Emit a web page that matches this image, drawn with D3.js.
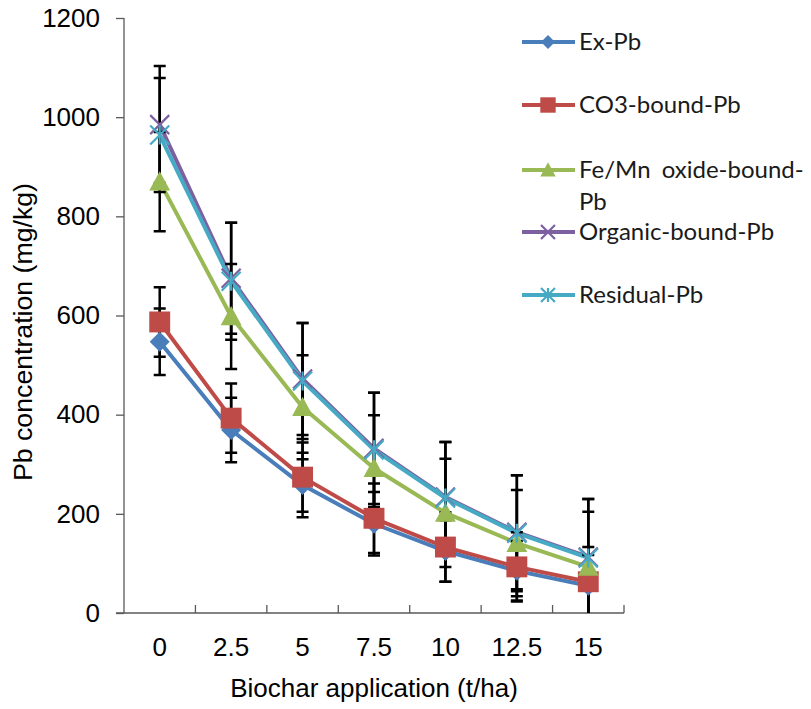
<!DOCTYPE html>
<html lang="en">

<head>
    <meta charset="utf-8">
    <script src="https://d3js.org/d3.v7.min.js"></script>
    <style>
        body { margin: 0; background: #fff; }
    </style>
</head>

<body>
    <div class="chart"></div>

    <script>
        // categories (biochar application, t/ha)
        const categories = ["0", "2.5", "5", "7.5", "10", "12.5", "15"];
        const yTicks = [0, 200, 400, 600, 800, 1000, 1200];

        // series values (mg/kg)
        const exPb = [547, 369, 258, 180, 125, 85, 55];
        const co3Pb = [587, 393, 274, 191, 133, 93, 63];
        const feMnPb = [870, 598, 415, 292, 202, 141, 93];
        const organicPb = [985, 675, 472, 332, 234, 163, 113];
        const residualPb = [964, 669, 468, 329, 232, 161, 111];

        // error bar half-lengths
        const exErr = [67, 65, 65, 64, 62, 60, 62];
        const co3Err = [70, 70, 70, 70, 70, 70, 70];
        const feMnErr = [100, 106, 105, 107, 109, 107, 111];
        const organicErr = [118, 112, 113, 112, 111, 115, 117];
        const residualErr = [115, 118, 117, 115, 113, 117, 119];

        const seriesNames = ["Ex-Pb", "CO3-bound-Pb", "Fe/Mn oxide-bound-Pb", "Organic-bound-Pb", "Residual-Pb"];

        const series = [
            { name: seriesNames[0], values: exPb, err: exErr, color: "#4A7EBB", marker: "diamond" },
            { name: seriesNames[1], values: co3Pb, err: co3Err, color: "#BE4B48", marker: "square" },
            { name: seriesNames[2], values: feMnPb, err: feMnErr, color: "#98B954", marker: "triangle" },
            { name: seriesNames[3], values: organicPb, err: organicErr, color: "#7D60A0", marker: "x" },
            { name: seriesNames[4], values: residualPb, err: residualErr, color: "#46AAC5", marker: "star" }
        ];

        // dimensions
        const width = 811;
        const height = 709;
        const plotLeft = 124, plotRight = 624, plotTop = 18, plotBottom = 613;
        const axisColor = "#595959";
        const axisFont = "'Liberation Sans', Arial, sans-serif";

        const svg = d3.select(".chart")
            .append("svg")
            .attr("width", width)
            .attr("height", height);

        const x = d3.scaleBand().domain(categories).range([plotLeft, plotRight]);
        const cx = c => x(c) + x.bandwidth() / 2;
        const y = d3.scaleLinear().domain([0, 1200]).range([plotBottom, plotTop]);

        // y axis
        const yAxis = svg.append("g")
            .attr("transform", `translate(${plotLeft},0)`)
            .call(d3.axisLeft(y).tickValues(yTicks).tickFormat(d3.format("d")).tickSize(8).tickPadding(16));
        yAxis.select(".domain").attr("stroke", axisColor).attr("stroke-width", 1.3)
            .attr("d", `M0,${plotTop}V${plotBottom}`);
        yAxis.selectAll(".tick line").attr("stroke", axisColor).attr("stroke-width", 1.3);
        yAxis.selectAll(".tick text")
            .attr("font-family", axisFont).attr("font-size", 26).attr("fill", "#000");

        // x axis (category axis, ticks between categories pointing up)
        const xAxis = svg.append("g")
            .attr("transform", `translate(0,${plotBottom})`)
            .call(d3.axisBottom(x).tickSize(0).tickPadding(25));
        xAxis.select(".domain").attr("stroke", axisColor).attr("stroke-width", 1.3)
            .attr("d", `M${plotLeft - 8},0H${plotRight}`);
        xAxis.selectAll(".tick text")
            .attr("font-family", axisFont).attr("font-size", 26).attr("fill", "#000");
        xAxis.selectAll(".sep")
            .data(categories.slice(1).map(c => x(c)).concat([plotRight]))
            .enter()
            .append("line")
            .attr("class", "sep")
            .attr("x1", d => d).attr("x2", d => d)
            .attr("y1", 0).attr("y2", -8)
            .attr("stroke", axisColor).attr("stroke-width", 1.3);

        // axis titles
        svg.append("text")
            .attr("x", (plotLeft + plotRight) / 2).attr("y", 697)
            .attr("text-anchor", "middle")
            .attr("font-family", axisFont).attr("font-size", 26)
            .text("Biochar application (t/ha)");
        svg.append("text")
            .attr("transform", "translate(32,332) rotate(-90)")
            .attr("text-anchor", "middle")
            .attr("font-family", axisFont).attr("font-size", 26)
            .attr("textLength", 298).attr("lengthAdjust", "spacingAndGlyphs")
            .text("Pb concentration (mg/kg)");

        // clip for error bars running below zero
        svg.append("clipPath").attr("id", "plotClip")
            .append("rect").attr("x", plotLeft).attr("y", 0).attr("width", plotRight - plotLeft + 10).attr("height", plotBottom);

        const plot = svg.append("g");

        // lines
        const line = d3.line()
            .x((d, i) => cx(categories[i]))
            .y(d => y(d));
        plot.selectAll(".serie")
            .data(series)
            .enter()
            .append("path")
            .attr("class", "serie")
            .attr("fill", "none")
            .attr("stroke", d => d.color)
            .attr("stroke-width", 4)
            .attr("stroke-linejoin", "round")
            .attr("d", d => line(d.values));

        // error bars
        const errData = [];
        series.forEach(s => {
            s.values.forEach((v, i) => errData.push({ c: categories[i], lo: v - s.err[i], hi: v + s.err[i] }));
        });
        const errG = plot.append("g").attr("clip-path", "url(#plotClip)");
        errG.selectAll(".err")
            .data(errData)
            .enter()
            .append("path")
            .attr("class", "err")
            .attr("fill", "none")
            .attr("stroke", "#000")
            .attr("stroke-width", 2.5)
            .attr("d", d => {
                const px = cx(d.c);
                return `M${px},${y(d.lo)}V${y(d.hi)}M${px - 6},${y(d.hi)}H${px + 6}M${px - 6},${y(d.lo)}H${px + 6}`;
            });

        // marker shapes
        function drawMarker(g, type, color, s) {
            if (type === "diamond") {
                g.append("path").attr("d", `M0,${-s / 2}L${s / 2},0L0,${s / 2}L${-s / 2},0Z`).attr("fill", color);
            } else if (type === "square") {
                const h = s * 0.55;
                g.append("rect").attr("x", -h).attr("y", -h).attr("width", 2 * h).attr("height", 2 * h).attr("fill", color);
            } else if (type === "triangle") {
                const h = s * 0.55;
                g.append("path").attr("d", `M0,${-h}L${h},${h * 0.85}L${-h},${h * 0.85}Z`).attr("fill", color);
            } else if (type === "x") {
                const h = s * 0.5;
                g.append("path").attr("d", `M${-h},${-h}L${h},${h}M${-h},${h}L${h},${-h}`)
                    .attr("stroke", color).attr("stroke-width", 2.2).attr("fill", "none");
            } else if (type === "star") {
                const h = s * 0.5;
                g.append("path").attr("d", `M${-h},${-h}L${h},${h}M${-h},${h}L${h},${-h}M0,${-h}V${h}`)
                    .attr("stroke", color).attr("stroke-width", 2.2).attr("fill", "none");
            }
        }

        series.forEach(s => {
            s.values.forEach((v, i) => {
                const g = plot.append("g").attr("transform", `translate(${cx(categories[i])},${y(v)})`);
                drawMarker(g, s.marker, s.color, s.marker === "diamond" ? 20 : 19);
            });
        });

        // legend
        const legendFont = "Lato, 'Open Sans', sans-serif";
        const legendY = [42, 105, 170, 232, 295];
        const legend = svg.append("g");
        series.forEach((s, i) => {
            const g = legend.append("g").attr("transform", `translate(0,${legendY[i]})`);
            g.append("line").attr("x1", 522).attr("x2", 575).attr("y1", 0).attr("y2", 0)
                .attr("stroke", s.color).attr("stroke-width", 4);
            const m = g.append("g").attr("transform", "translate(548,0)");
            drawMarker(m, s.marker, s.color, 14);
            const t = g.append("text")
                .attr("x", 579).attr("y", 8)
                .attr("font-family", legendFont).attr("font-size", 24).attr("fill", "#1a1a1a");
            if (s.name === "Fe/Mn oxide-bound-Pb") {
                t.append("tspan").attr("x", 579).attr("word-spacing", 5).text("Fe/Mn oxide-bound-");
                t.append("tspan").attr("x", 579).attr("dy", 32).text("Pb");
            } else {
                t.text(s.name);
            }
        });
    </script>
</body>

</html>
